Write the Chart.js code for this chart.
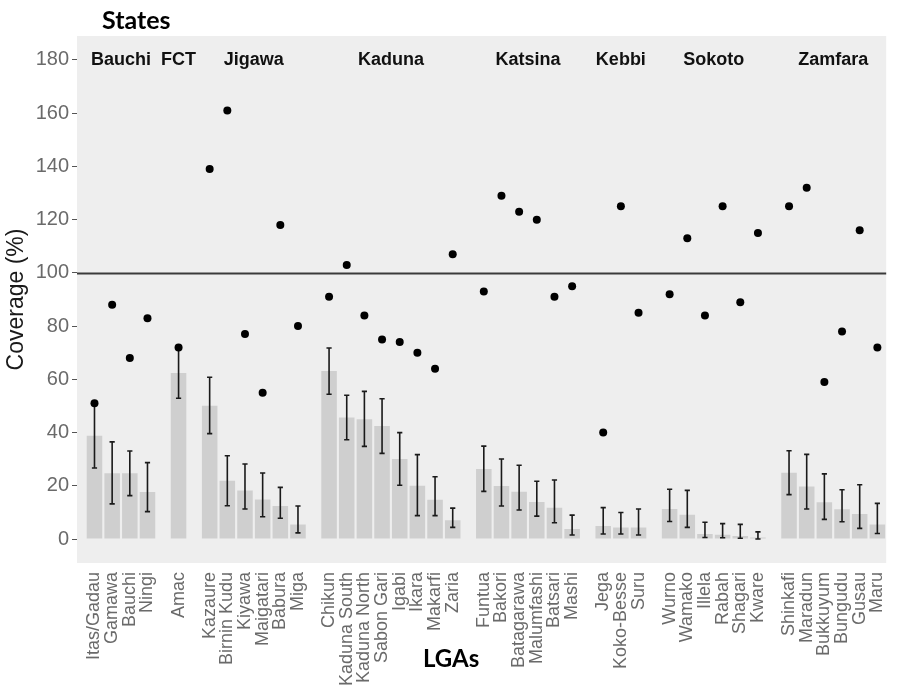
<!DOCTYPE html>
<html>
<head>
<meta charset="utf-8">
<script src="https://cdn.jsdelivr.net/npm/chart.js@4.4.1/dist/chart.umd.min.js"></script>
<style>
  html, body { margin: 0; padding: 0; background: #ffffff; }
  #wrap { width: 908px; height: 686px; }
</style>
</head>
<body>
<div id="wrap"><canvas id="chart" width="908" height="686"></canvas></div>
<script>
// States and the number of LGAs sampled in each
const states = ['Bauchi', 'FCT', 'Jigawa', 'Kaduna', 'Katsina', 'Kebbi', 'Sokoto', 'Zamfara'];
const stateSizes = [4, 1, 6, 8, 6, 3, 6, 6];

// Local Government Areas, in state order
const lgas = [
  'Itas/Gadau', 'Gamawa', 'Bauchi', 'Ningi',
  'Amac',
  'Kazaure', 'Birnin Kudu', 'Kiyawa', 'Maigatari', 'Babura', 'Miga',
  'Chikun', 'Kaduna South', 'Kaduna North', 'Sabon Gari', 'Igabi', 'Ikara', 'Makarfi', 'Zaria',
  'Funtua', 'Bakori', 'Batagarawa', 'Malumfashi', 'Batsari', 'Mashi',
  'Jega', 'Koko-Besse', 'Suru',
  'Wurno', 'Wamako', 'Illela', 'Rabah', 'Shagari', 'Kware',
  'Shinkafi', 'Maradun', 'Bukkuyum', 'Bungudu', 'Gusau', 'Maru'
];

// Survey coverage (%) with 95% confidence limits
const surveyCoverage = [
  38.8, 24.7, 24.7, 17.7,
  62.4,
  50.1, 21.9, 18.2, 14.9, 12.4, 5.5,
  63.1, 45.7, 45.0, 42.5, 30.1, 20.0, 14.8, 7.1,
  26.3, 19.9, 17.8, 13.9, 11.8, 3.8,
  4.9, 4.3, 4.3,
  11.3, 9.1, 1.9, 1.6, 1.1, 0.6,
  24.9, 19.7, 13.8, 11.2, 9.4, 5.5
];
const ciLower = [
  26.7, 13.2, 16.3, 10.3,
  52.9,
  39.6, 12.5, 11.3, 8.4, 7.8, 2.3,
  54.4, 37.3, 34.8, 32.2, 20.2, 8.8, 8.8, 4.4,
  17.9, 12.4, 10.9, 8.6, 6.1, 1.5,
  1.9, 1.9, 1.5,
  6.6, 4.4, 0.6, 0.5, 0.3, 0.0,
  16.7, 11.3, 7.4, 6.5, 4.0, 2.1
];
const ciUpper = [
  50.5, 36.5, 33.1, 28.7,
  71.5,
  60.8, 31.3, 28.2, 24.8, 19.4, 12.4,
  71.8, 54.0, 55.5, 52.7, 40.0, 31.7, 23.4, 11.6,
  34.9, 30.1, 27.7, 21.7, 22.2, 9.0,
  11.8, 10.0, 11.3,
  18.7, 18.3, 6.3, 5.8, 5.5, 2.7,
  33.2, 31.8, 24.5, 18.5, 20.4, 13.4
];

// Administrative coverage (%)
const adminCoverage = [
  51, 88, 68, 83,
  72,
  139, 161, 77, 55, 118, 80,
  91, 103, 84, 75, 74, 70, 64, 107,
  93, 129, 123, 120, 91, 95,
  40, 125, 85,
  92, 113, 84, 125, 89, 115,
  125, 132, 59, 78, 116, 72
];

const yTicks = [0, 20, 40, 60, 80, 100, 120, 140, 160, 180];
const target = 100;

// Horizontal positions: one unit per LGA, plus a gap between states
const GROUP_GAP = 0.76;
const xPos = [];
const stateCentres = [];
{
  let k = 0;
  stateSizes.forEach((n, g) => {
    const first = k + g * GROUP_GAP;
    for (let j = 0; j < n; j++) { xPos.push(k + g * GROUP_GAP); k++; }
    stateCentres.push((first + xPos[xPos.length - 1]) / 2);
  });
}
const labelFor = new Map(xPos.map((v, i) => [v.toFixed(3), lgas[i]]));

const TICK_GREY = '#6a6a6a';

const panelPlugin = {
  id: 'panel',
  beforeDraw(chart) {
    const { ctx, chartArea: a } = chart;
    ctx.save();
    ctx.fillStyle = '#ffffff';
    ctx.fillRect(0, 0, chart.width, chart.height);
    ctx.fillStyle = '#eeeeee';
    ctx.fillRect(a.left, a.top, a.right - a.left, a.bottom - a.top);
    ctx.restore();
  },
  beforeDatasetsDraw(chart) {
    const { ctx, chartArea: a, scales: { y } } = chart;
    const py = Math.round(y.getPixelForValue(target)) + 0.5;
    ctx.save();
    ctx.strokeStyle = '#3a3a3a';
    ctx.lineWidth = 1.8;
    ctx.beginPath();
    ctx.moveTo(a.left, py);
    ctx.lineTo(a.right, py);
    ctx.stroke();
    ctx.restore();
  },
  afterDatasetDraw(chart, args) {
    if (args.index !== 0) return;
    const { ctx, scales: { x, y } } = chart;
    ctx.save();
    ctx.strokeStyle = '#1a1a1a';
    ctx.lineWidth = 1.6;
    const cap = 2.6;
    xPos.forEach((v, i) => {
      const px = x.getPixelForValue(v);
      const lo = y.getPixelForValue(ciLower[i]);
      const hi = y.getPixelForValue(ciUpper[i]);
      ctx.beginPath();
      ctx.moveTo(px, lo); ctx.lineTo(px, hi);
      ctx.moveTo(px - cap, lo); ctx.lineTo(px + cap, lo);
      ctx.moveTo(px - cap, hi); ctx.lineTo(px + cap, hi);
      ctx.stroke();
    });
    ctx.restore();
  },
  afterDraw(chart) {
    const { ctx, scales: { x, y } } = chart;
    ctx.save();
    ctx.fillStyle = '#111111';
    ctx.textAlign = 'center';
    ctx.textBaseline = 'middle';
    ctx.font = 'bold 18px "Liberation Sans", Arial, sans-serif';
    const sy = y.getPixelForValue(180);
    states.forEach((s, g) => {
      ctx.fillText(s, x.getPixelForValue(stateCentres[g]), sy);
    });
    ctx.textAlign = 'left';
    ctx.textBaseline = 'alphabetic';
    ctx.fillStyle = '#000000';
    ctx.font = 'bold 25px Lato, "Open Sans", sans-serif';
    ctx.fillText('States', 102, 29);
    ctx.font = 'bold 24px Lato, "Open Sans", sans-serif';
    ctx.fillText('LGAs', 423, 667);
    ctx.restore();
  }
};

new Chart(document.getElementById('chart'), {
  type: 'bar',
  data: {
    datasets: [
      {
        type: 'bar',
        label: 'Survey coverage',
        data: xPos.map((v, i) => ({ x: v, y: surveyCoverage[i] })),
        backgroundColor: '#cfcfcf',
        borderWidth: 0,
        categoryPercentage: 1,
        barPercentage: 0.88,
        order: 2
      },
      {
        type: 'scatter',
        label: 'Administrative coverage',
        data: xPos.map((v, i) => ({ x: v, y: adminCoverage[i] })),
        backgroundColor: '#000000',
        borderColor: '#000000',
        pointRadius: 4,
        pointBorderWidth: 0,
        order: 1
      }
    ]
  },
  options: {
    responsive: false,
    animation: false,
    layout: { padding: { top: 36, right: 0, bottom: 0, left: 0 } },
    plugins: {
      legend: { display: false },
      tooltip: { enabled: false },
      title: { display: false }
    },
    scales: {
      x: {
        type: 'linear',
        min: -0.99,
        max: xPos[xPos.length - 1] + 0.5,
        offset: false,
        afterBuildTicks(scale) { scale.ticks = xPos.map(v => ({ value: v })); },
        afterFit(scale) { scale.height = 123; },
        grid: { display: false, drawTicks: false },
        border: { display: false },
        ticks: {
          autoSkip: false,
          minRotation: 90,
          maxRotation: 90,
          padding: 9,
          color: TICK_GREY,
          font: { family: '"Liberation Sans", Arial, sans-serif', size: 18 },
          callback: (v) => labelFor.get(Number(v).toFixed(3)) || ''
        }
      },
      y: {
        type: 'linear',
        min: -9,
        max: 189,
        afterBuildTicks(scale) { scale.ticks = yTicks.map(v => ({ value: v })); },
        afterFit(scale) { scale.width = 77; },
        grid: { display: true, drawOnChartArea: false, drawTicks: true, tickLength: 5, color: '#555555', lineWidth: 1 },
        border: { display: false },
        ticks: {
          padding: 3,
          color: TICK_GREY,
          font: { family: '"Liberation Sans", Arial, sans-serif', size: 20 }
        },
        title: {
          display: true,
          text: 'Coverage (%)',
          color: '#1a1a1a',
          padding: { top: 3, bottom: 0 },
          font: { family: '"Liberation Sans", Arial, sans-serif', size: 23 }
        }
      }
    }
  },
  plugins: [panelPlugin]
});
</script>
</body>
</html>
